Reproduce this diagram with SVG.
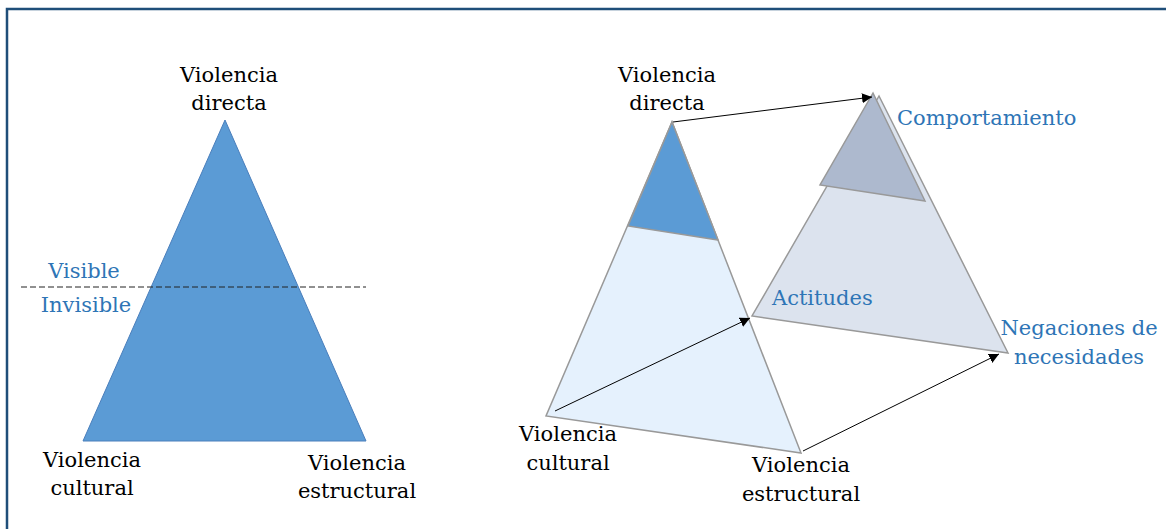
<svg xmlns="http://www.w3.org/2000/svg" width="1166" height="529" viewBox="0 0 1166 529">
<style>
.t{font-family:"DejaVu Serif","Liberation Serif",serif;font-size:21px;text-anchor:middle}
.s{text-anchor:start}
.k{fill:#000}
.b{fill:#2E75B6}
.arr{stroke:#000;stroke-width:1;fill:none;marker-end:url(#ah)}
.edge{stroke:#999;stroke-width:1.5}
</style>
<defs>
<marker id="ah" viewBox="0 0 10 10" refX="10" refY="5" markerWidth="10" markerHeight="10" markerUnits="userSpaceOnUse" orient="auto">
<path d="M0,0 L10,5 L0,10 Z" fill="#000"/>
</marker>
</defs>
<rect width="1166" height="529" fill="#fff"/>
<path d="M7,529 V9 H1166" fill="none" stroke="#1F4E79" stroke-width="2.5"/>

<g id="left-triangle">
<polygon points="225,120 83,441 366,441" fill="#5B9BD5" stroke="#4A7EBB" stroke-width="1"/>
</g>
<g id="visibility-line">
<line x1="21" y1="287" x2="366" y2="287" stroke="#222" stroke-width="1" stroke-dasharray="6,3"/>
<text class="t b" x="84" y="278">Visible</text>
<text class="t b" x="86" y="312">Invisible</text>
</g>
<g id="left-directa"><text class="t k" x="229" y="82">Violencia</text><text class="t k" x="229" y="110">directa</text></g>
<g id="left-cultural"><text class="t k" x="92" y="467">Violencia</text><text class="t k" x="92" y="495">cultural</text></g>
<g id="left-estructural"><text class="t k" x="357" y="470">Violencia</text><text class="t k" x="357" y="498">estructural</text></g>

<g id="back-triangle">
<polygon points="879,96 752,316 1008,353" fill="#DCE3EE" class="edge"/>
<polygon points="873,93 820,185 925,201" fill="#ADB9CE" class="edge"/>
</g>
<g id="front-triangle">
<polygon points="672,122 546,416 801,453" fill="#E5F1FD" class="edge"/>
<polygon points="672,122 628,226 718,240" fill="#5B9BD5" class="edge"/>
</g>

<g id="connectors">
<line class="arr" x1="673" y1="122" x2="872" y2="97"/>
<line class="arr" x1="555" y1="411" x2="750" y2="318"/>
<line class="arr" x1="803" y1="451" x2="999" y2="354"/>
</g>

<g id="right-directa"><text class="t k" x="667" y="82">Violencia</text><text class="t k" x="667" y="110">directa</text></g>
<g id="comportamiento"><text class="t b s" x="897" y="125">Comportamiento</text></g>
<g id="actitudes"><text class="t b s" x="772" y="305">Actitudes</text></g>
<g id="negaciones"><text class="t b" x="1079" y="335">Negaciones de</text><text class="t b" x="1079" y="364">necesidades</text></g>
<g id="right-cultural"><text class="t k" x="568" y="441">Violencia</text><text class="t k" x="568" y="470">cultural</text></g>
<g id="right-estructural"><text class="t k" x="801" y="472">Violencia</text><text class="t k" x="801" y="501">estructural</text></g>
</svg>
